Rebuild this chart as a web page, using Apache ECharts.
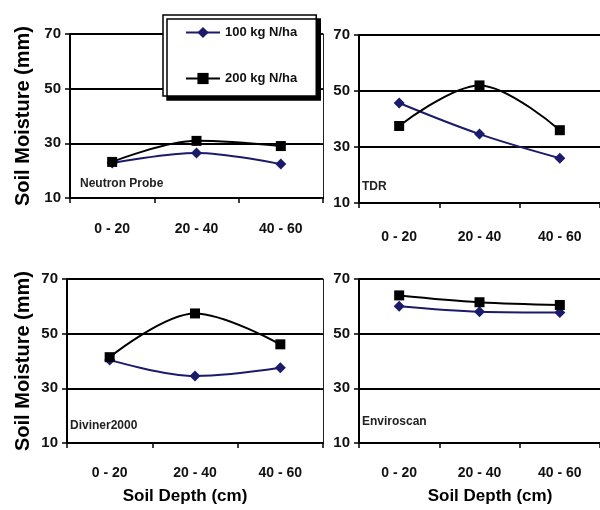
<!DOCTYPE html>
<html>
<head>
<meta charset="utf-8">
<script src="https://cdn.jsdelivr.net/npm/echarts@6/dist/echarts.min.js"></script>
<style>
  html, body { margin: 0; padding: 0; background: #fff; }
  #chart { width: 600px; height: 510px; }
</style>
</head>
<body>
<div id="chart"></div>
<script>
// 資料
const depths = ['0 - 20', '20 - 40', '40 - 60'];
const seriesNames = ['100 kg N/ha', '200 kg N/ha'];
const panelNames = ['Neutron Probe', 'TDR', 'Diviner2000', 'Enviroscan'];

const neutron100 = [22.8, 26.5, 22.4];
const neutron200 = [23.2, 30.9, 29.0];
const tdr100 = [45.7, 34.6, 26.0];
const tdr200 = [37.5, 52.0, 36.0];
const diviner100 = [40.4, 34.5, 37.5];
const diviner200 = [41.4, 57.4, 46.1];
const enviro100 = [60.0, 58.0, 57.7];
const enviro200 = [64.0, 61.5, 60.5];

const yTicks = [10, 30, 50, 70];

const narrow = '"Liberation Sans Narrow", "Liberation Sans", Arial, sans-serif';
const wide = '"Liberation Sans", Arial, sans-serif';
const navy = '#1b1b6b';

// 每個小圖的位置
const grids = [
    { left: 70, top: 34, width: 253, height: 164 },
    { left: 359, top: 35, width: 246, height: 168 },
    { left: 67, top: 279, width: 256, height: 164 },
    { left: 359, top: 279, width: 246, height: 164 }
];
const labelMargins = [24, 27, 23, 23];
const nameGaps = [37, 0, 34, 0];
const data100 = [neutron100, tdr100, diviner100, enviro100];
const data200 = [neutron200, tdr200, diviner200, enviro200];

function initChart() {
    const chart = echarts.init(document.getElementById('chart'));

    const xAxis = grids.map((g, i) => ({
        type: 'category',
        gridIndex: i,
        data: depths,
        boundaryGap: true,
        axisLine: { lineStyle: { color: '#000', width: 2 } },
        axisTick: { show: true, length: 5, lineStyle: { color: '#000', width: 1.5 } },
        axisLabel: {
            margin: labelMargins[i],
            color: '#111',
            fontFamily: narrow,
            fontWeight: 'bold',
            fontSize: 14
        }
    }));

    const yAxis = [];
    grids.forEach((g, i) => {
        yAxis.push({
            type: 'value',
            gridIndex: i,
            min: 10,
            max: 70,
            interval: 20,
            name: i % 2 === 0 ? 'Soil Moisture (mm)' : '',
            nameLocation: 'middle',
            nameGap: nameGaps[i],
            nameTextStyle: { fontFamily: wide, fontWeight: 'bold', fontSize: 20, color: '#000' },
            axisLine: { show: true, lineStyle: { color: '#000', width: 2 } },
            axisTick: { show: true, length: 5, lineStyle: { color: '#000', width: 1.5 } },
            axisLabel: {
                margin: 9,
                color: '#111',
                fontFamily: narrow,
                fontWeight: 'bold',
                fontSize: 15,
                formatter: v => (yTicks.includes(v) ? String(v) : '')
            },
            splitLine: { show: true, lineStyle: { color: '#000', width: 2 } }
        });
    });
    // 左邊兩個小圖的右框線
    [0, 2].forEach(i => {
        yAxis.push({
            type: 'value',
            gridIndex: i,
            position: 'right',
            min: 10,
            max: 70,
            interval: 20,
            axisLine: { show: true, lineStyle: { color: '#222', width: 1 } },
            axisTick: { show: true, inside: true, length: 3, lineStyle: { color: '#222' } },
            axisLabel: { show: false },
            splitLine: { show: false }
        });
    });

    const series = [];
    grids.forEach((g, i) => {
        series.push({
            name: seriesNames[0],
            type: 'line',
            xAxisIndex: i,
            yAxisIndex: i,
            data: data100[i],
            smooth: 0.35,
            symbol: 'diamond',
            symbolSize: 11,
            itemStyle: { color: navy },
            lineStyle: { color: navy, width: 2 },
            z: 3
        });
        series.push({
            name: seriesNames[1],
            type: 'line',
            xAxisIndex: i,
            yAxisIndex: i,
            data: data200[i],
            smooth: 0.35,
            symbol: 'rect',
            symbolSize: 10,
            itemStyle: { color: '#000' },
            lineStyle: { color: '#000', width: 2 },
            z: 4
        });
    });

    const panelPos = [
        { left: 80, top: 178 },
        { left: 362, top: 181 },
        { left: 70, top: 420 },
        { left: 362, top: 416 }
    ];
    const titles = panelNames.map((t, i) => ({
        text: t,
        left: panelPos[i].left,
        top: panelPos[i].top,
        padding: 0,
        textStyle: { fontFamily: narrow, fontWeight: 'bold', fontSize: 12, color: '#222' }
    }));
    titles.push({
        text: 'Soil Depth (cm)', left: 185, top: 488, textAlign: 'center', padding: 0,
        textStyle: { fontFamily: wide, fontWeight: 'bold', fontSize: 17, color: '#000' }
    });
    titles.push({
        text: 'Soil Depth (cm)', left: 490, top: 488, textAlign: 'center', padding: 0,
        textStyle: { fontFamily: wide, fontWeight: 'bold', fontSize: 17, color: '#000' }
    });

    const option = {
        animation: false,
        backgroundColor: '#fff',
        title: titles,
        legend: {
            data: seriesNames,
            orient: 'vertical',
            left: 163,
            top: 15,
            padding: [11, 19, 11, 22],
            itemGap: 33,
            itemWidth: 34,
            itemHeight: 14,
            backgroundColor: '#fff',
            borderColor: '#000',
            borderWidth: 1.5,
            shadowColor: '#000',
            shadowBlur: 0,
            shadowOffsetX: 4,
            shadowOffsetY: 4,
            textStyle: { fontFamily: narrow, fontWeight: 'bold', fontSize: 13, color: '#111' }
        },
        grid: grids,
        xAxis: xAxis,
        yAxis: yAxis,
        series: series
    };

    chart.setOption(option);
}

window.onload = function () {
    initChart();
};
</script>
</body>
</html>
